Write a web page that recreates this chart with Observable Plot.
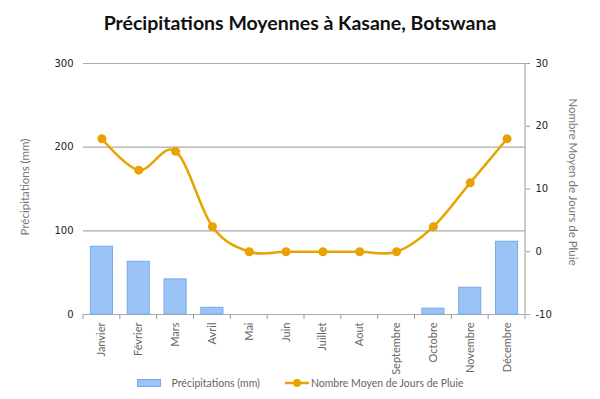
<!DOCTYPE html>
<html>
<head>
<meta charset="utf-8">
<script src="https://cdn.jsdelivr.net/npm/d3@7"></script>
<script src="https://cdn.jsdelivr.net/npm/@observablehq/plot@0.6"></script>
<style>
  html, body { margin: 0; padding: 0; background: #fff; }
  #wrap { width: 600px; height: 399px; overflow: hidden; position: relative; }
  #title { height: 46px; line-height: 46px; text-align: center; font-family: Lato, sans-serif; font-weight: bold; font-size: 19.5px; color: #111; }
  #legend { position: absolute; left: 0; right: 0; top: 374px; height: 18px; display: flex; justify-content: center; align-items: center; font-family: Lato, sans-serif; font-size: 10.5px; color: #666; }
  .item { display: flex; align-items: center; }
  svg { display: block; }
</style>
</head>
<body>
<div id="wrap">
  <div id="title">Précipitations Moyennes à Kasane, Botswana</div>
  <div id="chart"></div>
  <div id="legend"></div>
</div>
<script>
const months = ["Janvier","Février","Mars","Avril","Mai","Juin","Juillet","Aout","Septembre","Octobre","Novembre","Décembre"];
const rainfall = [81, 63, 42, 8, 0, 0, 0, 0, 0, 7, 32, 87];
const rainDays = [18, 13, 16, 4, 0, 0, 0, 0, 0, 4, 11, 18];
const leftTicks = [0, 100, 200, 300];
const rightTicks = [-10, 0, 10, 20, 30];
const leftTitle = "Précipitations (mm)";
const rightTitle = "Nombre Moyen de Jours de Pluie";
const seriesNames = ["Précipitations (mm)", "Nombre Moyen de Jours de Pluie"];

const barFill = "#9bc3f6";
const barStroke = "#78aaea";
const lineColor = "#e8a202";

const leftDomain = [0, 300];
const rightDomain = [-10, 30];
const toLeft = v => leftDomain[0] + (v - rightDomain[0]) * (leftDomain[1] - leftDomain[0]) / (rightDomain[1] - rightDomain[0]);
const fromLeft = v => rightDomain[0] + (v - leftDomain[0]) * (rightDomain[1] - rightDomain[0]) / (leftDomain[1] - leftDomain[0]);

const data = months.map((m, i) => ({month: m, rain: rainfall[i], days: rainDays[i]}));

const boundaryTicks = (index, scales, values, dims) => {
  const x = scales.x, y = scales.y;
  const step = x.step();
  const off = (step - x.bandwidth()) / 2;
  const g = d3.create("svg:g").attr("stroke", "#999").attr("stroke-width", 1);
  const y0 = y(0);
  const xs = months.map(m => x(m) - off).concat([x(months[months.length - 1]) - off + step]);
  xs.forEach(xx => g.append("line").attr("x1", xx).attr("x2", xx).attr("y1", y0).attr("y2", y0 + 5));
  return g.node();
};

const rightEdge = (index, scales, values, dims) => {
  const xx = dims.width - dims.marginRight;
  return d3.create("svg:line").attr("x1", xx).attr("x2", xx)
    .attr("y1", dims.marginTop).attr("y2", dims.height - dims.marginBottom)
    .attr("stroke", "#999").attr("stroke-width", 1).node();
};

const chart = Plot.plot({
  width: 600,
  height: 353,
  marginLeft: 83,
  marginRight: 75,
  marginTop: 17,
  marginBottom: 85,
  style: {fontFamily: "DejaVu Sans, sans-serif", fontSize: "10px", background: "white"},
  x: {domain: months, paddingInner: 0.4, paddingOuter: 0.2, round: false, axis: null},
  y: {domain: leftDomain, axis: null},
  marks: [
    Plot.ruleY(leftTicks, {stroke: "#aaa", strokeWidth: 1.2}),
    Plot.barY(data, {x: "month", y: "rain", fill: barFill, stroke: barStroke, strokeWidth: 1, filter: d => d.rain > 0}),
    Plot.line(data, {x: "month", y: d => toLeft(d.days), stroke: lineColor, strokeWidth: 2.5, curve: "cardinal"}),
    Plot.dot(data, {x: "month", y: d => toLeft(d.days), r: 4.5, fill: lineColor}),
    boundaryTicks,
    rightEdge,
    Plot.axisY(leftTicks, {anchor: "left", tickSize: 0, tickPadding: 10, label: null, color: "#222"}),
    Plot.axisY(rightTicks.map(toLeft), {anchor: "right", tickSize: 4, tickPadding: 6, label: null, stroke: "#999", fill: "#222", tickFormat: v => Math.round(fromLeft(v))}),
    Plot.axisX(months, {anchor: "bottom", tickSize: 0, tickPadding: 8, tickRotate: -90, label: null, fill: "#666", fontFamily: "Lato, sans-serif", fontSize: 11}),
    Plot.text([leftTitle], {frameAnchor: "left", textAnchor: "middle", rotate: -90, dx: -58, dy: -2, fill: "#777", fontFamily: "Lato, sans-serif", fontSize: 11.5}),
    Plot.text([rightTitle], {frameAnchor: "right", textAnchor: "middle", rotate: 90, dx: 47, dy: -7, fill: "#777", fontFamily: "Lato, sans-serif", fontSize: 11.5})
  ]
});
document.getElementById("chart").appendChild(chart);

// Legend
const legend = d3.select("#legend");
const it1 = legend.append("div").attr("class", "item").style("margin-right", "24px");
it1.append("svg").attr("width", 24).attr("height", 10).append("rect")
  .attr("x", 0.5).attr("y", 1.5).attr("width", 23).attr("height", 7).attr("fill", barFill).attr("stroke", barStroke);
it1.append("span").style("margin-left", "11px").text(seriesNames[0]);
const it2 = legend.append("div").attr("class", "item");
const s2 = it2.append("svg").attr("width", 26).attr("height", 10);
s2.append("line").attr("x1", 1).attr("x2", 25).attr("y1", 5).attr("y2", 5).attr("stroke", lineColor).attr("stroke-width", 2.5);
s2.append("circle").attr("cx", 13).attr("cy", 5).attr("r", 4).attr("fill", lineColor);
it2.append("span").style("margin-left", "1px").text(seriesNames[1]);
</script>
</body>
</html>
